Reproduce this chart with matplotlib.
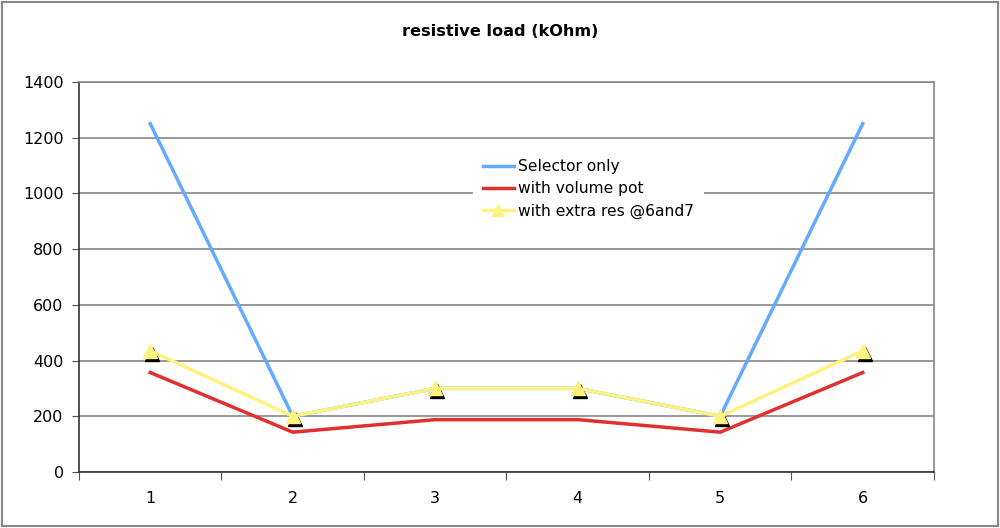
import matplotlib
matplotlib.use('Agg')
import matplotlib.pyplot as plt
from matplotlib.transforms import offset_copy
from matplotlib.patches import Rectangle

# data
positions = [1, 2, 3, 4, 5, 6]
selector_only = [1250, 200, 300, 300, 200, 1250]
volume_pot = [357, 143, 188, 188, 143, 357]
extra_res = [435, 200, 300, 300, 200, 435]
labels = ['Selector only', 'with volume pot', 'with extra res @6and7']

plt.rcParams['font.family'] = ['DejaVu Sans']

fig = plt.figure(figsize=(10, 5.28), dpi=100)
ax = fig.add_axes([0.079, 0.106, 0.855, 0.739])

ax.plot(positions, selector_only, color='#66aaff', lw=2.5, label=labels[0], zorder=3)
ax.plot(positions, volume_pot, color='#e03030', lw=2.5, label=labels[1], zorder=3)
# black marker shadow
shadow = offset_copy(ax.transData, fig=fig, x=2, y=-3, units='dots')
ax.plot(positions, extra_res, ls='none', marker='^', ms=10, color='black',
        transform=shadow, zorder=4)
ax.plot(positions, extra_res, color='#fff380', lw=2.5, marker='^', ms=10,
        markeredgecolor='#fff380', label=labels[2], zorder=5)

ax.set_xlim(0.5, 6.5)
ax.set_ylim(0, 1400)
ax.set_yticks(range(0, 1401, 200))
ax.yaxis.grid(True, color='#888888', lw=1.2)
ax.set_axisbelow(True)

ax.set_xticks([0.5, 1.5, 2.5, 3.5, 4.5, 5.5, 6.5])
ax.set_xticklabels([])
ax.set_xticks(positions, minor=True)
ax.set_xticklabels([str(p) for p in positions], minor=True)
ax.tick_params(axis='x', which='minor', length=0, pad=14, labelsize=11.5)
ax.tick_params(axis='x', which='major', length=6, direction='out', color='#555555')
ax.tick_params(axis='y', length=5, direction='out', labelsize=11.5, pad=6, color='#555555')

for s in ['left', 'bottom']:
    ax.spines[s].set_color('#333333')
    ax.spines[s].set_linewidth(1.2)
ax.spines['right'].set_color('#888888')
ax.spines['right'].set_linewidth(1.2)
ax.spines['top'].set_color('#888888')
ax.spines['top'].set_linewidth(1.2)

fig.text(0.5, 0.94, 'resistive load (kOhm)', ha='center', va='center',
         fontsize=11.6, fontweight='bold')

leg = ax.legend(loc='upper left', bbox_to_anchor=(0.452, 0.845), frameon=True,
                fancybox=False, edgecolor='none', facecolor='white', framealpha=1,
                fontsize=11.2, handlelength=2.0, handletextpad=0.3,
                labelspacing=0.45, borderpad=0.6, markerscale=0.8)
leg.set_zorder(10)

fig.patches.append(Rectangle((0.002, 0.003), 0.996, 0.994, transform=fig.transFigure,
                             fill=False, edgecolor='#888888', lw=1.5))

fig.savefig('out.png', dpi=100, facecolor='white')
